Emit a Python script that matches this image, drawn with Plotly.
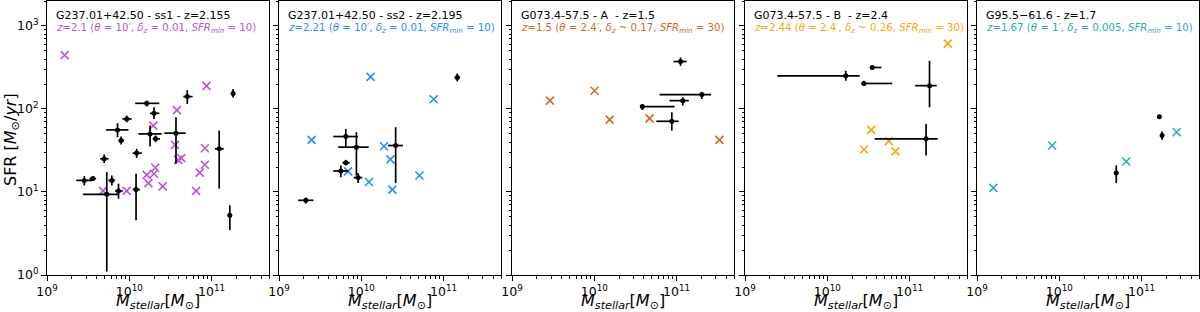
import plotly.graph_objects as go

# ---------------- data ----------------
# Panel 1: G237.01+42.50 - ss1
p1_cross_mass = [1.64e9, 4.8e9, 9.3e9, 1.63e10, 1.71e10, 2.0e10, 2.07e10, 1.96e10, 2.55e10,
                 3.8e10, 3.6e10, 3.94e10, 4.3e10, 8.7e10, 8.3e10, 8.3e10, 7.2e10, 6.5e10]
p1_cross_sfr = [445, 10.3, 10.3, 16.1, 12.8, 16.6, 19.6, 63, 11.7,
                97, 37, 24.4, 25.6, 190, 33.7, 21.3, 17.1, 10.3]
p1_mass = [2.84e9, 3.61e9, 4.95e9, 6.14e9, 5.33e9, 7.40e9, 7.2e9, 7.96e9, 9.33e9, 1.21e10,
           1.23e10, 1.63e10, 2.0e10, 1.79e10, 2.09e10, 3.70e10, 5.07e10, 1.24e11, 1.83e11, 1.67e11]
p1_mass_lo = [2.27e9, 3.29e9, 4.43e9, 5.58e9, 2.73e9, 6.73e9, 5.24e9, 7.40e9, 8.27e9, 1.10e10,
              1.10e10, 1.18e10, 1.79e10, 1.29e10, 1.93e10, 2.67e10, 4.54e10, 1.10e11, 1.75e11, 1.61e11]
p1_mass_hi = [3.51e9, 3.96e9, 5.58e9, 6.73e9, 7.40e9, 8.34e9, 9.78e9, 8.65e9, 1.07e10, 1.35e10,
              1.42e10, 2.32e10, 2.32e10, 2.48e10, 2.37e10, 4.84e10, 5.89e10, 1.41e11, 1.92e11, 1.73e11]
p1_sfr = [13.8, 14.5, 25.1, 13.8, 9.38, 10.3, 56, 41.7, 75.9, 10.7,
          29.4, 117, 88.7, 50.1, 43.7, 51.1, 141, 33.1, 154, 5.25]
p1_sfr_lo = [12.0, 13.6, 22.3, 12.0, 1.10, 8.3, 45.7, 37.3, 69.2, 4.57,
             25.8, 107, 75.9, 35.3, 39.8, 21.9, 115, 11.0, 138, 3.47]
p1_sfr_hi = [15.6, 15.4, 28.3, 15.8, 17.4, 12.6, 67.3, 46.6, 83.2, 16.6,
             33.1, 126, 105, 63.1, 47.9, 79.4, 169, 55, 174, 6.92]

# Panel 2: G237.01+42.50 - ss2
p2_cross_mass = [2.49e9, 6.9e9, 1.24e10, 1.30e10, 1.89e10, 2.26e10, 2.39e10, 5.1e10, 7.6e10]
p2_cross_sfr = [42.5, 17.7, 13.2, 244, 35.6, 24.7, 10.7, 15.8, 131]
p2_mass = [2.12e9, 6.49e9, 6.49e9, 5.65e9, 8.73e9, 9.16e9, 2.62e10, 1.47e11]
p2_mass_lo = [1.71e9, 4.56e9, 5.91e9, 4.56e9, 5.24e9, 8.11e9, 2.11e10, 1.36e11]
p2_mass_hi = [2.61e9, 9.16e9, 7.26e9, 6.92e9, 1.23e10, 1.03e10, 3.21e10, 1.59e11]
p2_sfr = [7.94, 46.6, 22.5, 17.9, 34.7, 14.9, 36.3, 240]
p2_sfr_lo = [7.24, 34.7, 20.9, 15.1, 15.8, 12.8, 12.8, 215]
p2_sfr_hi = [8.55, 57.5, 24.4, 20.9, 52.5, 16.9, 60.3, 268]

# Panel 3: G073.4-57.5 - A
p3_cross_mass = [2.89e9, 1.01e10, 1.54e10, 4.71e10, 3.32e11]
p3_cross_sfr = [126, 166, 74.5, 77, 42.5]
p3_mass = [1.12e11, 2.03e11, 1.19e11, 3.84e10, 8.77e10]
p3_mass_lo = [9.2e10, 6.22e10, 8.22e10, 3.80e10, 5.68e10]
p3_mass_hi = [1.33e11, 2.63e11, 1.41e11, 9.46e10, 1.06e11]
p3_sfr = [373, 149, 126, 107, 71.1]
p3_sfr_lo = [331, 132, 110, 97.3, 55]
p3_sfr_hi = [417, 158, 138, 115, 91.2]

# Panel 4: G073.4-57.5 - B
p4_cross_mass = [2.92e11, 3.43e10, 5.61e10, 2.79e10, 6.76e10]
p4_cross_sfr = [614, 56, 41, 32.5, 30.8]
p4_mass = [1.68e10, 3.52e10, 2.79e10, 1.75e11, 1.59e11]
p4_mass_lo = [2.47e9, 3.50e10, 2.59e10, 1.17e11, 3.77e10]
p4_mass_hi = [2.48e10, 4.54e10, 6.17e10, 2.14e11, 2.2e11]
p4_sfr = [251, 316, 203, 191, 43.7]
p4_sfr_lo = [219, 302, 189, 105, 27.5]
p4_sfr_hi = [288, 331, 219, 380, 66]

# Panel 5: G95.5-61.6
p5_cross_mass = [1.58e9, 8.19e9, 6.52e10, 2.68e11]
p5_cross_sfr = [11.2, 36.3, 23.3, 52.5]
p5_mass = [1.65e11, 1.78e11, 4.93e10]
p5_mass_lo = [1.62e11, 1.75e11, 4.85e10]
p5_mass_hi = [1.68e11, 1.81e11, 5.01e10]
p5_sfr = [80.9, 47.9, 16.9]
p5_sfr_lo = [76.6, 42.5, 12.8]
p5_sfr_hi = [85.5, 53.5, 20.9]

titles = ["G237.01+42.50 - ss1 - z=2.155", "G237.01+42.50 - ss2 - z=2.195",
          "G073.4-57.5 - A  - z=1.5", "G073.4-57.5 - B  - z=2.4", "G95.5\u221261.6 - z=1.7"]
subtitles = [
    "<i>z</i>=2.1 (<i>\u03b8</i> = 10\u2032, <i>\u03b4<sub>z</sub></i> = 0.01, <i>SFR<sub>min</sub></i> = 10)",
    "<i>z</i>=2.21 (<i>\u03b8</i> = 10\u2032, <i>\u03b4<sub>z</sub></i> = 0.01, <i>SFR<sub>min</sub></i> = 10)",
    "<i>z</i>=1.5 (<i>\u03b8</i> = 2.4\u2032, <i>\u03b4<sub>z</sub></i> ~ 0.17, <i>SFR<sub>min</sub></i> = 30)",
    "<i>z</i>=2.44 (<i>\u03b8</i> = 2.4\u2032, <i>\u03b4<sub>z</sub></i> ~ 0.26, <i>SFR<sub>min</sub></i> = 30)",
    "<i>z</i>=1.67 (<i>\u03b8</i> = 1\u2032, <i>\u03b4<sub>z</sub></i> = 0.005, <i>SFR<sub>min</sub></i> = 10)",
]
colors = ["#BA55D3", "#1E90FF", "#D2691E", "#FFA500", "#20B2AA"]

x_tickvals = [1e9, 1e10, 1e11]
x_ticktext = ["10<sup>9</sup>", "10<sup>10</sup>", "10<sup>11</sup>"]
y_tickvals = [1, 10, 100, 1000]
y_ticktext = ["10<sup>0</sup>", "10<sup>1</sup>", "10<sup>2</sup>", "10<sup>3</sup>"]

panels = [
    (p1_cross_mass, p1_cross_sfr, p1_mass, p1_mass_lo, p1_mass_hi, p1_sfr, p1_sfr_lo, p1_sfr_hi),
    (p2_cross_mass, p2_cross_sfr, p2_mass, p2_mass_lo, p2_mass_hi, p2_sfr, p2_sfr_lo, p2_sfr_hi),
    (p3_cross_mass, p3_cross_sfr, p3_mass, p3_mass_lo, p3_mass_hi, p3_sfr, p3_sfr_lo, p3_sfr_hi),
    (p4_cross_mass, p4_cross_sfr, p4_mass, p4_mass_lo, p4_mass_hi, p4_sfr, p4_sfr_lo, p4_sfr_hi),
    (p5_cross_mass, p5_cross_sfr, p5_mass, p5_mass_lo, p5_mass_hi, p5_sfr, p5_sfr_lo, p5_sfr_hi),
]

# ---------------- figure ----------------
W, H = 1200, 312
ML, MR, MT, MB = 47, 1, 1, 37
PW = W - ML - MR
PH = H - MT - MB
lefts_px = [47, 279, 512, 745, 977]
panel_w = 222

FONT = "DejaVu Sans"
fig = go.Figure()

minor_x = [m * 10 ** e for e in range(9, 12) for m in range(2, 10)]
minor_y = [m * 10 ** e for e in range(0, 4) for m in range(2, 10)]

for i, (cm, cs, bm, bmlo, bmhi, bs, bslo, bshi) in enumerate(panels):
    n = i + 1
    xa = "x" if n == 1 else f"x{n}"
    ya = "y" if n == 1 else f"y{n}"
    fig.add_trace(go.Scatter(
        x=cm, y=cs, mode="markers", xaxis=xa, yaxis=ya, showlegend=False,
        marker=dict(symbol="x-thin", size=8, color=colors[i],
                    line=dict(color=colors[i], width=1.6)),
    ))
    fig.add_trace(go.Scatter(
        x=bm, y=bs, mode="markers", xaxis=xa, yaxis=ya, showlegend=False,
        marker=dict(symbol="circle", size=5, color="black"),
        error_x=dict(type="data", symmetric=False,
                     array=[h - v for h, v in zip(bmhi, bm)],
                     arrayminus=[v - l for v, l in zip(bm, bmlo)],
                     color="black", thickness=1.7, width=0),
        error_y=dict(type="data", symmetric=False,
                     array=[h - v for h, v in zip(bshi, bs)],
                     arrayminus=[v - l for v, l in zip(bs, bslo)],
                     color="black", thickness=1.7, width=0),
    ))

    d0 = (lefts_px[i] - ML) / PW
    d1 = (lefts_px[i] + panel_w - ML) / PW
    axis_common = dict(
        type="log", showline=True, mirror=True, linecolor="black", linewidth=1,
        ticks="outside", ticklen=5, tickwidth=1, tickcolor="black",
        showgrid=False, zeroline=False, automargin=False,
        tickfont=dict(family=FONT, size=12.5, color="black"),
    )
    fig.layout[f"xaxis{'' if n == 1 else n}"] = dict(
        axis_common, domain=[d0, min(d1, 1.0)], anchor=ya,
        range=[9, 11.699], tickmode="array", tickvals=x_tickvals, ticktext=x_ticktext,
        minor=dict(tickmode="array", tickvals=minor_x, ticks="outside", ticklen=2.5,
                   tickwidth=0.8, tickcolor="black", showgrid=False),
    )
    fig.layout[f"yaxis{'' if n == 1 else n}"] = dict(
        axis_common, domain=[0, 1], anchor=xa,
        range=[0, 3.301], tickmode="array", tickvals=y_tickvals, ticktext=y_ticktext,
        showticklabels=(n == 1),
        minor=dict(tickmode="array", tickvals=minor_y, ticks="outside", ticklen=2.5,
                   tickwidth=0.8, tickcolor="black", showgrid=False),
    )

    # panel texts
    fig.add_annotation(
        text=titles[i], xref=f"{xa} domain", yref="paper",
        x=7 / panel_w, y=(PH - 15) / PH, xanchor="left", yanchor="middle",
        showarrow=False, font=dict(family=FONT, size=11, color="black"),
    )
    fig.add_annotation(
        text=subtitles[i], xref=f"{xa} domain", yref="paper",
        x=7 / panel_w, y=(PH - 27.5) / PH, xanchor="left", yanchor="middle",
        showarrow=False, font=dict(family=FONT, size=10.2, color=colors[i]),
    )
    # x-axis title
    fig.add_annotation(
        text="<i>M<sub>stellar</sub></i>[<i>M</i><sub>\u2299</sub>]",
        xref=f"{xa} domain", yref="paper", x=0.5, y=-(301 - 275) / PH,
        xanchor="center", yanchor="middle", showarrow=False,
        font=dict(family=FONT, size=16, color="black"),
    )

# y-axis title
fig.add_annotation(
    text="SFR [<i>M</i><sub>\u2299</sub>/<i>yr</i>]", xref="paper", yref="paper",
    x=(11 - ML) / PW, y=(275 - 140) / PH, xanchor="center", yanchor="middle",
    textangle=-90, showarrow=False, font=dict(family=FONT, size=16, color="black"),
)

fig.update_layout(
    width=W, height=H, autosize=False,
    margin=dict(l=ML, r=MR, t=MT, b=MB, autoexpand=False),
    paper_bgcolor="white", plot_bgcolor="white",
    font=dict(family=FONT, color="black"),
)

fig.write_html(
    "out.html",
    config={"displayModeBar": False},
    post_script="document.body.style.margin='0px';document.body.style.padding='0px';"
                "document.body.style.overflow='hidden';",
)
